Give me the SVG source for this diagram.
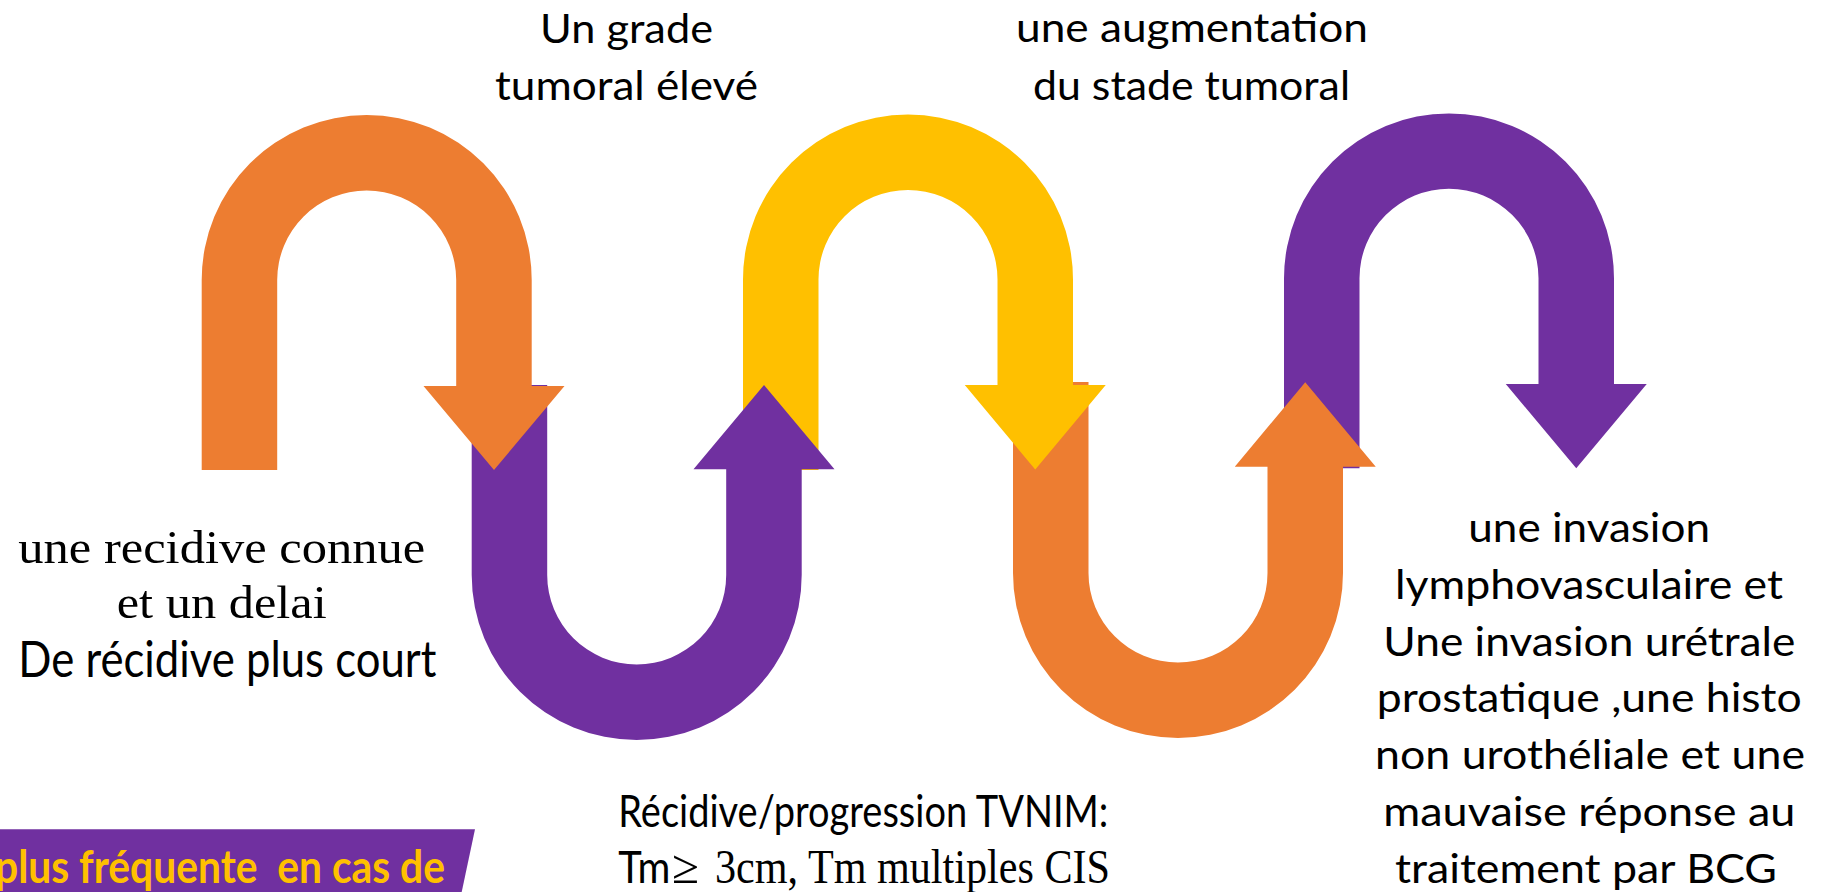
<svg xmlns="http://www.w3.org/2000/svg" width="1823" height="892" viewBox="0 0 1823 892">
<style>
.sans{font-family:Lato,"Open Sans","Liberation Sans",sans-serif;fill:#000}
.serif{font-family:"Liberation Serif","DejaVu Serif",serif;fill:#000}
.or{fill:#ED7D31}.ye{fill:#FFC000}.pu{fill:#7030A0}
.banner{font-family:Lato,"Open Sans","Liberation Sans",sans-serif;font-weight:bold;fill:#FFC000}
</style>
<rect width="1823" height="892" fill="#fff"/>
<g id="connectors">
  <path id="arch3" class="pu" d="M 1284 468.3 V 278.3 A 165 165 0 0 1 1614 278.3 V 384 H 1646.75 L 1576.25 468.3 L 1505.75 384 H 1538.5 V 278.3 A 89.5 89.5 0 0 0 1359.5 278.3 V 468.3 Z"/>
  <path id="u2" class="or" d="M 1013 382 V 573 A 165 165 0 0 0 1343 573 V 466.7 H 1375.75 L 1305.25 382.3 L 1234.75 466.7 H 1267.5 V 573 A 89.5 89.5 0 0 1 1088.5 573 V 382 Z"/>
  <path id="arch2" class="ye" d="M 743 470 V 279.5 A 165 165 0 0 1 1073 279.5 V 385 H 1105.75 L 1035.25 469.5 L 964.75 385 H 997.5 V 279.5 A 89.5 89.5 0 0 0 818.5 279.5 V 470 Z"/>
  <path id="u1" class="pu" d="M 471.7 385 V 575 A 165 165 0 0 0 801.7 575 V 469.3 H 834.5 L 764 385 L 693.5 469.3 H 726.2 V 575 A 89.5 89.5 0 0 1 547.2 575 V 385 Z"/>
  <path id="arch1" class="or" d="M 201.7 470 V 280 A 165 165 0 0 1 531.7 280 V 386 H 564.5 L 494 470 L 423.5 386 H 456.2 V 280 A 89.5 89.5 0 0 0 277.2 280 V 470 Z"/>
</g>
<g id="node-grade">
  <text class="sans" x="540" y="42.7" font-size="41" textLength="173" lengthAdjust="spacingAndGlyphs">Un grade</text>
  <text class="sans" x="495" y="100" font-size="41" textLength="263" lengthAdjust="spacingAndGlyphs">tumoral élevé</text>
</g>
<g id="node-stade">
  <text class="sans" x="1016" y="42" font-size="41" textLength="352" lengthAdjust="spacingAndGlyphs">une augmentation</text>
  <text class="sans" x="1033" y="100" font-size="41" textLength="317" lengthAdjust="spacingAndGlyphs">du stade tumoral</text>
</g>
<g id="node-recidive">
  <text class="serif" x="18.3" y="563.3" font-size="47" textLength="407" lengthAdjust="spacingAndGlyphs">une recidive connue</text>
  <text class="serif" x="116.7" y="618.3" font-size="47" textLength="210" lengthAdjust="spacingAndGlyphs">et un delai</text>
  <text class="sans" x="18.3" y="676.7" font-size="51" textLength="418" lengthAdjust="spacingAndGlyphs">De récidive plus court</text>
</g>
<g id="node-tvnim">
  <text class="sans" x="618.3" y="826.7" font-size="44" textLength="490" lengthAdjust="spacingAndGlyphs">Récidive/progression TVNIM:</text>
  <text class="sans" x="618.3" y="883.3" font-size="44" textLength="52" lengthAdjust="spacingAndGlyphs">Tm</text>
  <text class="serif" x="672" y="883.3" font-size="48" textLength="27" lengthAdjust="spacingAndGlyphs">≥</text>
  <text class="serif" x="715" y="883.3" font-size="49" textLength="395" lengthAdjust="spacingAndGlyphs">3cm, Tm multiples CIS</text>
</g>
<g id="node-invasion">
  <text class="sans" x="1468.3" y="541.7" font-size="40" textLength="241.7" lengthAdjust="spacingAndGlyphs">une invasion</text>
  <text class="sans" x="1395" y="598.6" font-size="40" textLength="388" lengthAdjust="spacingAndGlyphs">lymphovasculaire et</text>
  <text class="sans" x="1383.3" y="655.5" font-size="40" textLength="412" lengthAdjust="spacingAndGlyphs">Une invasion urétrale</text>
  <text class="sans" x="1376.7" y="712.4" font-size="40" textLength="425" lengthAdjust="spacingAndGlyphs">prostatique ,une histo</text>
  <text class="sans" x="1375" y="769.3" font-size="40" textLength="430" lengthAdjust="spacingAndGlyphs">non urothéliale et une</text>
  <text class="sans" x="1383.3" y="826.2" font-size="40" textLength="412" lengthAdjust="spacingAndGlyphs">mauvaise réponse au</text>
  <text class="sans" x="1395" y="883.1" font-size="40" textLength="382" lengthAdjust="spacingAndGlyphs">traitement par BCG</text>
</g>
<g id="node-banner">
  <polygon class="pu" points="0,829.3 475,829.3 461.7,892 0,892"/>
  <text class="banner" x="-5" y="882.7" font-size="45" textLength="450" lengthAdjust="spacingAndGlyphs" xml:space="preserve">plus fréquente  en cas de</text>
</g>
</svg>
